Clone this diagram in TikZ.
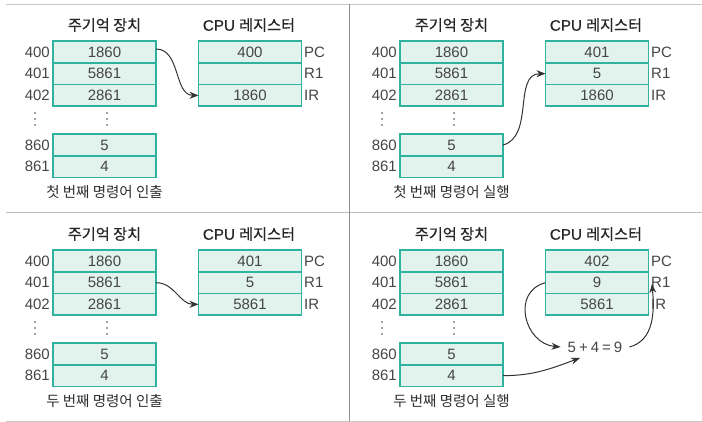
\documentclass[tikz,border=0pt]{standalone}
\usepackage{fontspec}
\setmainfont{Liberation Sans}
\newfontfamily\kr{Noto Sans CJK KR}
\newfontfamily\krt{Noto Sans CJK KR}[FakeBold=0.45]
\newfontfamily\lat{Liberation Sans}[FakeBold=0.45]
\usetikzlibrary{arrows.meta}
\definecolor{cellline}{HTML}{2FB29E}
\definecolor{cellfill}{HTML}{E2F2ED}
\definecolor{txt}{HTML}{454545}
\definecolor{arr}{HTML}{333333}
\newcommand\fs{\fontsize{15}{17}\selectfont}
\newcommand\fsc{\fontsize{14.5}{17}\selectfont}
\newcommand\fst{\fontsize{15.2}{17}\selectfont}
\begin{document}
\begin{tikzpicture}[x=1pt,y=-1pt,
  cell/.style={draw=cellline, fill=cellfill, line width=1.5pt, minimum width=103pt,
    minimum height=21.67pt, inner sep=0pt, outer sep=0pt, text=txt, font=\fs},
  addr/.style={anchor=east, inner sep=0pt, text=txt, font=\fs},
  reg/.style={anchor=west, inner sep=0pt, text=txt, font=\fs},
  ttl/.style={text=black!85, font=\fst, inner sep=0pt},
  captxt/.style={text=black!82, font=\fsc, inner sep=0pt},
  flow/.style={draw=arr, line width=1pt, -{Stealth[length=9pt,width=7pt]}},
  dotm/.style={fill=txt, circle, inner sep=0pt, minimum size=1.8pt},
  divider/.style={draw=black!#1, line width=0.8pt},
  pics/panel/.style n args={4}{code={
    \node[ttl] (-tm) at (104.5,25) {\krt 주기억 장치};
    \node[ttl] (-tc) at (249,25) {{\lat CPU} {\krt 레지스터}};
    \node[cell] (-m400) at (104.5,52) {1860};
    \node[cell] (-m401) at (104.5,73.67) {5861};
    \node[cell] (-m402) at (104.5,95.33) {2861};
    \node[cell] (-m860) at (104.5,145) {5};
    \node[cell] (-m861) at (104.5,166.67) {4};
    \node[addr] (-a400) at (50,52) {400};
    \node[addr] (-a401) at (50,73.67) {401};
    \node[addr] (-a402) at (50,95.33) {402};
    \node[addr] (-a860) at (50,145) {860};
    \node[addr] (-a861) at (50,166.67) {861};
    \node[dotm] (-d1) at (35,113) {};
    \node[dotm] (-d2) at (35,119) {};
    \node[dotm] (-d3) at (35,125) {};
    \node[dotm] (-d4) at (107,113) {};
    \node[dotm] (-d5) at (107,119) {};
    \node[dotm] (-d6) at (107,125) {};
    \node[cell] (-pc) at (250,52) {#1};
    \node[cell] (-r1) at (250,73.67) {#2};
    \node[cell] (-ir) at (250,95.33) {#3};
    \node[reg] (-lpc) at (304,52) {PC};
    \node[reg] (-lr1) at (304,73.67) {R1};
    \node[reg] (-lir) at (304,95.33) {IR};
    \node[captxt] (-cap) at (104.5,192) {\kr #4};
  }}
]
\useasboundingbox (0,0) rectangle (702,422);
% dividers
\coordinate (tlc) at (6,4);
\coordinate (trc) at (702,4);
\coordinate (mlc) at (6,212);
\coordinate (mrc) at (702,212);
\coordinate (blc) at (6,421);
\coordinate (brc) at (702,421);
\coordinate (vt) at (349,4);
\coordinate (vb) at (349,421);
\draw[divider=22] (tlc) -- (trc);
\draw[divider=25] (mlc) -- (mrc);
\draw[divider=22] (blc) -- (brc);
\draw[divider=45] (vt) -- (vb);

\pic (tl) at (0,0) {panel={400}{}{1860}{첫 번째 명령어 인출}};
\pic (tr) at (347,0) {panel={401}{5}{1860}{첫 번째 명령어 실행}};
\pic (bl) at (0,209) {panel={401}{5}{5861}{두 번째 명령어 인출}};
\pic (br) at (347,209) {panel={402}{9}{5861}{두 번째 명령어 실행}};

\draw[flow] ([yshift=3pt]tl-m400.east) to[out=0,in=180] (tl-ir.west);
\draw[flow] (tr-m860.east) to[out=15,in=180] (tr-r1.west);
\draw[flow] (bl-m401.east) to[out=0,in=180] (bl-ir.west);

\node[text=txt, font=\fs, inner xsep=7pt, inner ysep=2pt] (sum) at (595,347)
  {5\hspace{3pt}+\hspace{3pt}4\hspace{3pt}=\hspace{3pt}9};
\coordinate (sumin) at (580,358);
\coordinate (r1in) at (652,284);
\draw[flow] (br-m861.east) to[out=0,in=200] (sumin);
\draw[flow] (br-r1.west) to[out=195,in=175,looseness=1.4] (sum.west);
\draw[flow] (sum.east) to[out=15,in=-85] (r1in);
\end{tikzpicture}
\end{document}
